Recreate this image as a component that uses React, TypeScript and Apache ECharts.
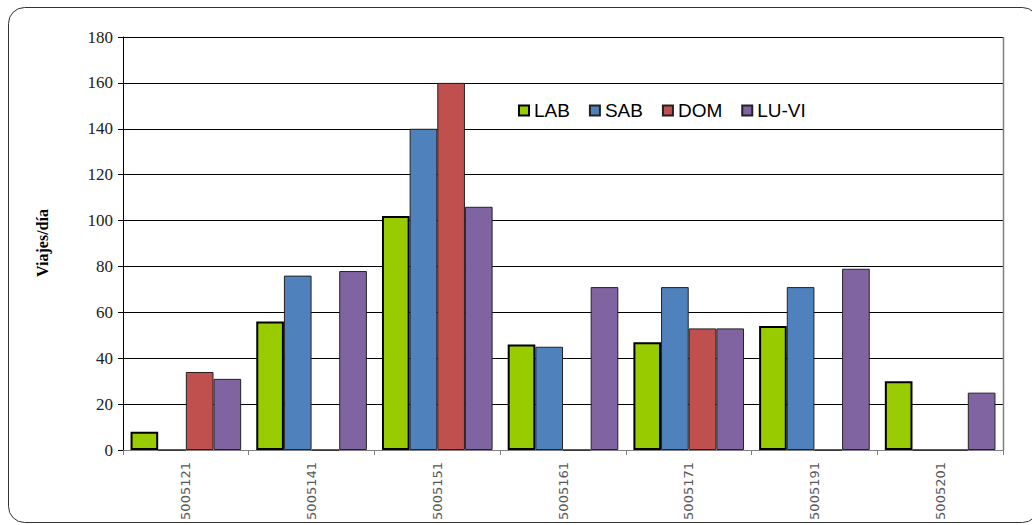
import React, { useEffect, useRef } from "react";
import * as echarts from "echarts";

const categories = ["5005121", "5005141", "5005151", "5005161", "5005171", "5005191", "5005201"];
const labValues = [8, 56, 102, 46, 47, 54, 30];
const sabValues = [0, 76, 140, 45, 71, 71, 0];
const domValues = [34, 0, 160, 0, 53, 0, 0];
const luviValues = [31, 78, 106, 71, 53, 79, 25];
const seriesNames = ["LAB", "SAB", "DOM", "LU-VI"];
const yTicks = { min: 0, max: 180, interval: 20 };

export default function App() {
  const ref = useRef<HTMLDivElement>(null);
  useEffect(() => {
    document.body.style.margin = "0";
    const chart = echarts.init(ref.current!, null, { renderer: "svg" });
    const colors = ["#99CC00", "#4F81BD", "#C0504D", "#8064A2"];
    const dataSets = [labValues, sabValues, domValues, luviValues];
    chart.setOption({
      animation: false,
      backgroundColor: "#ffffff",
      grid: { left: 123, right: 29, top: 37, bottom: 75, containLabel: false },
      legend: {
        data: seriesNames,
        left: 513,
        top: 96,
        icon: "rect",
        itemWidth: 10,
        itemHeight: 10,
        itemGap: 19,
        textStyle: { fontFamily: "Liberation Sans, Arial", fontSize: 19, color: "#000" },
      },
      xAxis: {
        type: "category",
        data: categories,
        axisLine: { lineStyle: { color: "#808080", width: 1 } },
        axisTick: { show: true, interval: 0, length: 5, lineStyle: { color: "#808080" } },
        axisLabel: {
          rotate: 90,
          margin: 12,
          interval: 0,
          fontFamily: "DejaVu Sans",
          fontSize: 13,
          color: "#595959",
        },
        splitLine: { show: false },
      },
      yAxis: {
        type: "value",
        min: yTicks.min,
        max: yTicks.max,
        interval: yTicks.interval,
        axisLine: { show: true, lineStyle: { color: "#000", width: 1 } },
        axisTick: { show: true, length: 5, lineStyle: { color: "#000" } },
        axisLabel: {
          margin: 10,
          fontFamily: "Liberation Serif, Times New Roman, serif",
          fontSize: 17,
          color: "#222",
        },
        splitLine: { show: true, lineStyle: { color: "#000", width: 1 } },
      },
      graphic: [
        {
          type: "rect",
          shape: { x: 8.5, y: 7.5, width: 1030, height: 515, r: 16 },
          style: { fill: "none", stroke: "#333", lineWidth: 1 },
          z: 100,
        },
        {
          type: "line",
          shape: { x1: 1003.5, y1: 37, x2: 1003.5, y2: 450 },
          style: { stroke: "#808080", lineWidth: 1.5 },
          z: 100,
        },
        {
          type: "text",
          x: 42,
          y: 243,
          rotation: Math.PI / 2,
          style: {
            text: "Viajes/día",
            fontFamily: "Liberation Serif, Times New Roman, serif",
            fontWeight: "bold",
            fontSize: 16,
            fill: "#000",
            align: "center",
            verticalAlign: "middle",
          },
        },
      ],
      series: seriesNames.map((name, i) => ({
        name,
        type: "bar",
        data: dataSets[i],
        barGap: "0%",
        barCategoryGap: "12%",
        itemStyle: {
          color: colors[i],
          borderColor: i === 0 ? "#000" : "#222",
          borderWidth: i === 0 ? 2 : 1,
        },
      })),
    });
    return () => chart.dispose();
  }, []);
  return <div ref={ref} style={{ width: 1032, height: 525 }} />;
}
